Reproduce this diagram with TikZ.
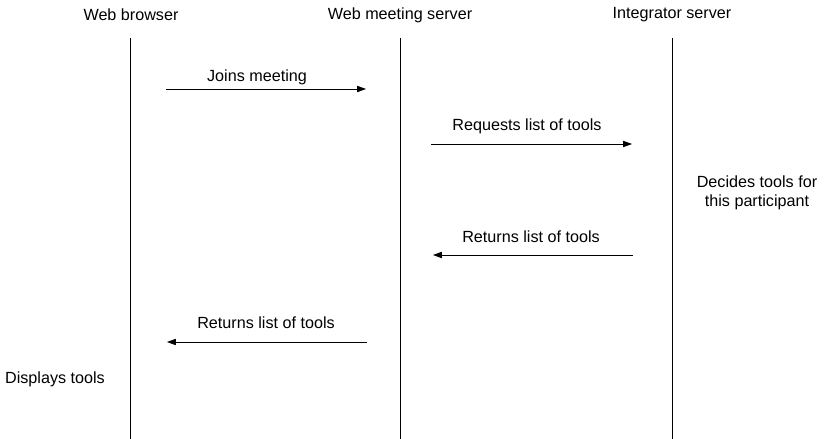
\documentclass[tikz,border=0pt]{standalone}
\usepackage{fontspec}
\setmainfont{Liberation Sans}
\usetikzlibrary{arrows.meta}

\begin{document}
\begin{tikzpicture}[x=0.02cm, y=-0.02cm, >={Triangle[length=5pt,width=3.5pt]}, line join=round, font=\fontsize{9.2}{11}\selectfont,
	lifeline/.style={thin},
	msg/.style={->, thin},
	txt/.style={inner sep=0pt, align=center}]
	\useasboundingbox (0,0) rectangle (826,439);
	
	% CÁC ĐƯỜNG ĐỜI: tiêu đề và đường dọc
	\node[txt] (browser) at (131,15) {Web browser};
	\node[txt] (meeting) at (400,15) {Web meeting server};
	\node[txt] (integrator) at (672,15) {Integrator server};
	\coordinate (browserT) at (130,38);
	\coordinate (browserB) at (130,439);
	\coordinate (meetingT) at (400,38);
	\coordinate (meetingB) at (400,439);
	\coordinate (integratorT) at (672,38);
	\coordinate (integratorB) at (672,439);
	\draw[lifeline] (browserT) -- (browserB);
	\draw[lifeline] (meetingT) -- (meetingB);
	\draw[lifeline] (integratorT) -- (integratorB);
	
	% THÔNG ĐIỆP 1: trình duyệt -> máy chủ họp
	\coordinate (joinA) at (166,89);
	\coordinate (joinB) at (366,89);
	\draw[msg] (joinA) -- (joinB);
	\node[txt] (join) at (257,77) {Joins meeting};
	
	% THÔNG ĐIỆP 2: máy chủ họp -> máy chủ tích hợp
	\coordinate (reqA) at (431,144);
	\coordinate (reqB) at (632,144);
	\draw[msg] (reqA) -- (reqB);
	\node[txt] (req) at (527,126) {Requests list of tools};
	
	% XỬ LÝ tại máy chủ tích hợp
	\node[txt] (decide) at (757,193) {Decides tools for\\this participant};
	
	% THÔNG ĐIỆP 3: máy chủ tích hợp -> máy chủ họp
	\coordinate (retA) at (633,255);
	\coordinate (retB) at (433,255);
	\draw[msg] (retA) -- (retB);
	\node[txt] (ret) at (531,237) {Returns list of tools};
	
	% THÔNG ĐIỆP 4: máy chủ họp -> trình duyệt
	\coordinate (backA) at (367,342);
	\coordinate (backB) at (167,342);
	\draw[msg] (backA) -- (backB);
	\node[txt] (back) at (266,323) {Returns list of tools};
	
	% HIỂN THỊ ở trình duyệt
	\node[txt] (show) at (55,379) {Displays tools};
\end{tikzpicture}
\end{document}
